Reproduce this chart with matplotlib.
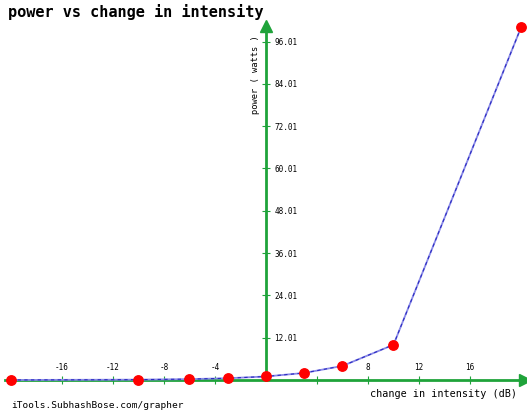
import matplotlib
matplotlib.use("Agg")
import matplotlib.pyplot as plt

# data
intensity_db = [-20, -10, -6, -3, 0, 3, 6, 10, 20]
power_watts = [0.01, 0.1, 0.25, 0.5, 1, 2, 4, 10, 100]
x_ticks = [-16, -12, -8, -4, 4, 8, 12, 16]
x_tick_labels = ["-16", "-12", "-8", "-4", "", "8", "12", "16"]
y_ticks = [12.01, 24.01, 36.01, 48.01, 60.01, 72.01, 84.01, 96.01]
y_tick_labels = ["12.01", "24.01", "36.01", "48.01", "60.01", "72.01", "84.01", "96.01"]

GREEN = "#1fa33a"
MONO = "DejaVu Sans Mono"

fig = plt.figure(figsize=(5.27, 4.13), dpi=100)
ax = fig.add_axes([0, 0, 1, 1])
ax.set_xlim(-20.86, 20.47)
ax.set_ylim(-9.36, 107.8)

for s in ["left", "bottom"]:
    ax.spines[s].set_visible(False)
ax.spines["top"].set_position(("data", 0))
ax.spines["right"].set_position(("data", 0))
ax.spines["top"].set_color(GREEN)
ax.spines["right"].set_color(GREEN)
ax.spines["top"].set_linewidth(2.0)
ax.spines["right"].set_linewidth(2.0)
ax.spines["top"].set_bounds(-20.5, 20.2)
ax.spines["right"].set_bounds(0, 99.5)

ax.xaxis.set_ticks_position("top")
ax.yaxis.set_ticks_position("right")
ax.set_xticks(x_ticks)
ax.set_xticklabels(x_tick_labels, fontsize=5.5, family=MONO)
ax.set_yticks(y_ticks)
ax.set_yticklabels(y_tick_labels, fontsize=5.5, family=MONO)
ax.tick_params(axis="both", direction="inout", length=6, width=0.8,
               color=GREEN, pad=3)

# arrow heads
ax.plot([20.3], [0], marker=">", color=GREEN, markersize=8, clip_on=False)
ax.plot([0], [100.3], marker="^", color=GREEN, markersize=8, clip_on=False)

# data line
ax.plot(intensity_db, power_watts, color="#8a8ae8", lw=1.3, zorder=3)
ax.plot(intensity_db, power_watts, color="#2a2ac0", lw=0.8,
        dashes=(3, 3), zorder=3)
ax.plot(intensity_db, power_watts, linestyle="none", marker="o",
        markersize=6.8, color="#ff0000", zorder=4, clip_on=False)

# texts
fig.text(8 / 527, 1 - 12 / 413, "power vs change in intensity",
         fontsize=11, fontweight="bold", family=MONO, va="center", ha="left")
fig.text(517 / 527, 1 - 394 / 413, "change in intensity (dB)",
         fontsize=7.3, family=MONO, va="center", ha="right")
fig.text(11 / 527, 1 - 405 / 413, "iTools.SubhashBose.com/grapher",
         fontsize=6.8, family=MONO, va="center", ha="left")
fig.text(256 / 527, 1 - 75 / 413, "power ( watts )", rotation=90,
         fontsize=6.3, family=MONO, va="center", ha="center")

fig.savefig("out.png", dpi=100)
